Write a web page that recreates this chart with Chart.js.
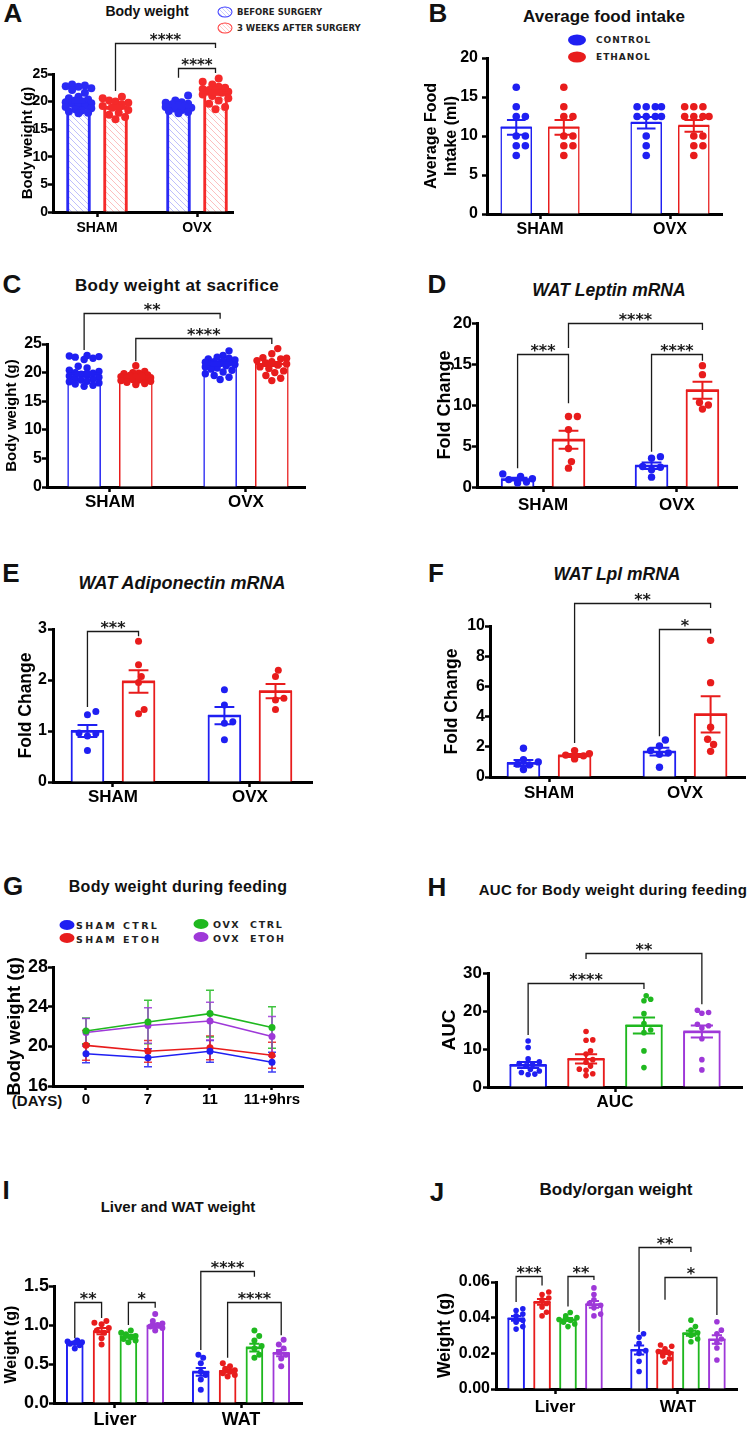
<!DOCTYPE html>
<html>
<head>
<meta charset="utf-8">
<title>Body weight, food intake and WAT panels</title>
<script src="https://cdn.jsdelivr.net/npm/chart.js@4.4.1/dist/chart.umd.min.js"></script>
<style>
  body { margin: 0; background: #fff; }
  #page { position: relative; width: 750px; height: 1432px; overflow: hidden; font-family: "Liberation Sans", Arial, sans-serif; color: #111; }
  #page canvas { position: absolute; }
  .t { position: absolute; white-space: pre; transform: translate(-50%, -50%); font-weight: bold; }
  .l { position: absolute; white-space: pre; transform: translateY(-50%); font-weight: bold; font-family: "DejaVu Sans", sans-serif; color: #222; }
  .m { position: absolute; border-radius: 50%; transform: translate(-50%, -50%); box-sizing: border-box; }
  .let { font-size: 26px; }
  .it { font-style: italic; }
</style>
</head>
<body>
<div id="page">
  <div class="t let" style="left:13px;top:13px">A</div>
  <div class="t let" style="left:438px;top:13px">B</div>
  <div class="t let" style="left:12px;top:284px">C</div>
  <div class="t let" style="left:437px;top:284px">D</div>
  <div class="t let" style="left:11px;top:573px">E</div>
  <div class="t let" style="left:436px;top:573px">F</div>
  <div class="t let" style="left:13px;top:886px">G</div>
  <div class="t let" style="left:437px;top:887px">H</div>
  <div class="t let" style="left:6px;top:1190px">I</div>
  <div class="t let" style="left:437px;top:1192px">J</div>

  <div class="t" style="left:147px;top:11px;font-size:14px">Body weight</div>
  <div class="t" style="left:604px;top:17px;font-size:17px">Average food intake</div>
  <div class="t" style="left:177px;top:286px;font-size:17px;letter-spacing:0.4px">Body weight at sacrifice</div>
  <div class="t it" style="left:609px;top:290px;font-size:17.5px">WAT Leptin mRNA</div>
  <div class="t it" style="left:182px;top:583px;font-size:18px">WAT Adiponectin mRNA</div>
  <div class="t it" style="left:617px;top:574px;font-size:17.5px">WAT Lpl mRNA</div>
  <div class="t" style="left:178px;top:887px;font-size:16px;letter-spacing:0.3px">Body weight during feeding</div>
  <div class="t" style="left:613px;top:889px;font-size:15px;letter-spacing:0.3px">AUC for Body weight during feeding</div>
  <div class="t" style="left:178px;top:1206px;font-size:15px">Liver and WAT weight</div>
  <div class="t" style="left:616px;top:1190px;font-size:17px">Body/organ weight</div>

  <!-- legend A -->
  <span class="m" style="left:225px;top:12px;width:15px;height:11px;border:1.5px solid #3b3bff;background:repeating-linear-gradient(45deg,#fff 0 2px,#c9c9ff 2px 3px)"></span>
  <div class="l" style="left:237px;top:12px;font-size:8.5px">BEFORE SURGERY</div>
  <span class="m" style="left:225px;top:28px;width:15px;height:11px;border:1.5px solid #ff3b3b;background:repeating-linear-gradient(45deg,#fff 0 2px,#ffc9c9 2px 3px)"></span>
  <div class="l" style="left:237px;top:28px;font-size:8.5px">3 WEEKS AFTER SURGERY</div>

  <!-- legend B -->
  <span class="m" style="left:577px;top:40px;width:18px;height:11px;background:#1f1ff2"></span>
  <div class="l" style="left:596px;top:40px;font-size:9px;letter-spacing:1px">CONTROL</div>
  <span class="m" style="left:577px;top:57px;width:18px;height:11px;background:#e81c1c"></span>
  <div class="l" style="left:596px;top:57px;font-size:9px;letter-spacing:1px">ETHANOL</div>

  <!-- legend G -->
  <span class="m" style="left:67px;top:925px;width:15px;height:10px;background:#1f1ff2"></span>
  <div class="l" style="left:76px;top:925px;font-size:9.5px;letter-spacing:2.4px">SHAM CTRL</div>
  <span class="m" style="left:67px;top:938px;width:15px;height:10px;background:#e81c1c"></span>
  <div class="l" style="left:76px;top:939px;font-size:9.5px;letter-spacing:2.4px">SHAM ETOH</div>
  <span class="m" style="left:201px;top:924px;width:15px;height:10px;background:#1fb81f"></span>
  <div class="l" style="left:213px;top:924px;font-size:9.5px;letter-spacing:1.6px">OVX  CTRL</div>
  <span class="m" style="left:201px;top:937px;width:15px;height:10px;background:#9e38d8"></span>
  <div class="l" style="left:213px;top:938px;font-size:9.5px;letter-spacing:1.6px">OVX  ETOH</div>

  <div class="t" style="left:37px;top:1100px;font-size:15px">(DAYS)</div>
</div>

<script>
// ---------- categories ----------
const shamOvx = ['SHAM', 'OVX'];
const organs = ['Liver', 'WAT'];
const days = ['0', '7', '11', '11+9hrs'];
const aucCat = ['AUC'];

// ---------- A: body weight before / 3 weeks after surgery ----------
const aBeforeMean = [20.2, 19.2];
const aBeforeSem = [0.3, 0.2];
const aAfterMean = [19.0, 21.6];
const aAfterSem = [0.35, 0.35];
const aBeforePts = [
  [23.1, 22.9, 22.8, 22.7, 22.4, 22.1, 21.6, 20.9, 20.6, 20.4, 20.2, 20.0, 19.9, 19.7, 19.6, 19.4, 19.2, 19.0, 18.8, 18.6, 18.4, 18.2, 18.0, 17.9],
  [21.1, 20.2, 19.9, 19.8, 19.6, 19.5, 19.3, 19.2, 19.0, 18.9, 18.7, 18.5, 18.3, 18.1, 17.9]
];
const aAfterPts = [
  [20.9, 20.6, 20.2, 20.0, 19.8, 19.5, 19.2, 18.9, 18.5, 18.0, 17.6, 17.2, 16.8],
  [24.2, 23.6, 23.1, 22.7, 22.5, 22.3, 22.1, 22.0, 21.8, 21.6, 21.3, 21.0, 20.6, 20.2, 19.6, 19.0, 18.6]
];
const aSig = [
  { from: [0, 1], to: [1, 1], y: 30.6, left: 21.9, right: 29.7, text: '****' },
  { from: [1, 0], to: [1, 1], y: 26.1, left: 24.3, right: 25.2, text: '****' }
];

// ---------- B: average food intake ----------
const bCtrlMean = [11.1, 11.7];
const bCtrlSem = [0.95, 0.75];
const bEtohMean = [11.1, 11.3];
const bEtohSem = [0.95, 0.75];
const bCtrlPts = [
  [16.25, 13.75, 12.5, 12.5, 10, 10, 8.75, 8.75, 7.5],
  [13.75, 13.75, 13.75, 13.75, 12.5, 12.5, 12.5, 12.5, 10, 8.75, 7.5]
];
const bEtohPts = [
  [16.25, 13.75, 12.5, 12.5, 10, 10, 8.75, 8.75, 7.5],
  [13.75, 13.75, 13.75, 12.5, 12.5, 12.5, 12.5, 10, 10, 8.75, 8.75, 7.5]
];

// ---------- C: body weight at sacrifice ----------
const cCtrlMean = [19.8, 21.5];
const cCtrlSem = [0.3, 0.25];
const cEtohMean = [19.3, 21.5];
const cEtohSem = [0.2, 0.35];
const cCtrlPts = [
  [23.0, 22.9, 22.8, 22.7, 22.5, 22.3, 21.1, 20.8, 20.4, 20.2, 20.0, 19.9, 19.7, 19.5, 19.4, 19.2, 19.0, 18.9, 18.7, 18.5, 18.4, 18.2, 18.0, 17.8, 17.6],
  [23.8, 23.0, 22.7, 22.5, 22.4, 22.2, 22.0, 21.9, 21.8, 21.7, 21.6, 21.5, 21.4, 21.2, 21.0, 20.8, 20.6, 20.4, 20.1, 19.8, 19.5, 19.2, 18.8]
];
const cEtohPts = [
  [21.2, 20.2, 20.0, 19.9, 19.8, 19.6, 19.5, 19.4, 19.3, 19.2, 19.1, 19.0, 18.9, 18.8, 18.7, 18.6, 18.5, 18.3, 18.1, 17.9],
  [24.2, 23.3, 22.6, 22.5, 22.4, 22.1, 21.9, 21.7, 21.5, 21.3, 21.0, 20.7, 20.3, 20.0, 19.5, 19.0, 18.6]
];
const cSig = [
  { from: [0, 0], to: [1, 0], y: 30.4, left: 23.95, right: 29.4, text: '**' },
  { from: [0, 1], to: [1, 1], y: 26.05, left: 22.0, right: 25.0, text: '****' }
];

// ---------- D: WAT leptin mRNA ----------
const dCtrlMean = [0.95, 2.6];
const dCtrlSem = [0.17, 0.4];
const dEtohMean = [5.75, 11.8];
const dEtohSem = [1.1, 1.05];
const dCtrlPts = [[1.6, 1.3, 1.0, 0.9, 0.6, 0.5], [3.7, 3.5, 2.5, 2.4, 2.1, 1.2]];
const dEtohPts = [[8.6, 8.6, 7.0, 4.7, 3.1, 2.3], [14.8, 13.7, 10.3, 10.0, 9.5]];
const dSig = [
  { from: [0, 0], to: [0, 1], y: 16.2, left: 2.3, right: 10.2, text: '***' },
  { from: [0, 1], to: [1, 1], y: 20.0, left: 16.95, right: 19.15, text: '****' },
  { from: [1, 0], to: [1, 1], y: 16.2, left: 4.3, right: 15.4, text: '****' }
];

// ---------- E: WAT adiponectin mRNA ----------
const eCtrlMean = [1.0, 1.3];
const eCtrlSem = [0.12, 0.17];
const eEtohMean = [1.97, 1.78];
const eEtohSem = [0.22, 0.14];
const eCtrlPts = [[1.38, 1.32, 0.96, 0.95, 0.90, 0.62], [1.81, 1.51, 1.18, 1.15, 0.83]];
const eEtohPts = [[2.76, 2.30, 2.07, 1.95, 1.42, 1.34], [2.19, 2.07, 1.64, 1.61, 1.42]];
const eSig = [
  { from: [0, 0], to: [0, 1], y: 2.96, left: 1.47, right: 2.86, text: '***' }
];

// ---------- F: WAT Lpl mRNA ----------
const fCtrlMean = [0.93, 1.68];
const fCtrlSem = [0.2, 0.25];
const fEtohMean = [1.42, 4.15];
const fEtohSem = [0.1, 1.2];
const fCtrlPts = [[1.9, 1.15, 1.0, 0.85, 0.8, 0.5], [2.45, 2.05, 1.75, 1.6, 1.5, 0.65]];
const fEtohPts = [[1.75, 1.55, 1.45, 1.4, 1.2], [9.05, 6.25, 3.3, 2.5, 2.15, 1.7]];
const fSig = [
  { from: [0, 1], to: [1, 1], y: 11.5, left: 2.25, right: 11.2, text: '**' },
  { from: [1, 0], to: [1, 1], y: 9.8, left: 2.7, right: 9.5, text: '*' }
];

// ---------- G: body weight during feeding ----------
const gShamCtrl = [19.25, 18.85, 19.5, 18.4];
const gShamCtrlErr = [0.9, 0.9, 1.1, 1.0];
const gShamEtoh = [20.1, 19.5, 19.85, 19.1];
const gShamEtohErr = [1.5, 1.1, 1.2, 1.3];
const gOvxCtrl = [21.55, 22.45, 23.3, 21.9];
const gOvxCtrlErr = [1.3, 2.2, 2.35, 2.1];
const gOvxEtoh = [21.4, 22.1, 22.55, 21.0];
const gOvxEtohErr = [1.4, 1.8, 1.9, 2.0];

// ---------- H: AUC ----------
const hShamCtrlMean = [5.8];
const hShamEtohMean = [7.4];
const hOvxCtrlMean = [16.2];
const hOvxEtohMean = [14.6];
const hSem = [0.8, 1.2, 2.1, 1.6];
const hShamCtrlPts = [[12.1, 10.4, 7.4, 6.6, 6.2, 5.9, 5.6, 4.6, 4.2, 3.8, 3.4, 3.3]];
const hShamEtohPts = [[14.6, 12.4, 12.3, 9.5, 8.7, 7.2, 6.5, 5.5, 4.7, 4.4, 3.5, 3.0]];
const hOvxCtrlPts = [[24.0, 23.1, 22.7, 19.3, 16.7, 15.0, 14.3, 9.5, 5.1]];
const hOvxEtohPts = [[20.2, 19.6, 19.4, 16.5, 16.1, 15.5, 12.7, 7.2, 4.5]];
const hSig = [
  { from: [0, 0], to: [0, 2], y: 27.4, left: 13.7, right: 25.8, text: '****' },
  { from: [0, 1], to: [0, 3], y: 35.3, left: 33.7, right: 21.8, text: '**' }
];

// ---------- I: liver and WAT weight ----------
const iShamCtrlMean = [0.77, 0.40];
const iShamEtohMean = [0.92, 0.41];
const iOvxCtrlMean = [0.855, 0.71];
const iOvxEtohMean = [0.99, 0.64];
const iShamCtrlSem = [0.015, 0.05];
const iShamEtohSem = [0.04, 0.02];
const iOvxCtrlSem = [0.02, 0.05];
const iOvxEtohSem = [0.025, 0.04];
const iShamCtrlPts = [[0.80, 0.79, 0.78, 0.77, 0.76, 0.74, 0.70], [0.62, 0.58, 0.51, 0.40, 0.36, 0.30, 0.17]];
const iShamEtohPts = [[1.05, 1.03, 1.01, 0.96, 0.93, 0.90, 0.83, 0.75], [0.51, 0.47, 0.44, 0.42, 0.40, 0.38, 0.36, 0.34]];
const iOvxCtrlPts = [[0.93, 0.90, 0.88, 0.86, 0.84, 0.82, 0.80, 0.78], [0.93, 0.86, 0.80, 0.73, 0.70, 0.62, 0.58]];
const iOvxEtohPts = [[1.14, 1.05, 1.02, 1.00, 0.98, 0.96, 0.93], [0.81, 0.75, 0.70, 0.65, 0.62, 0.57, 0.47]];
const iSig = [
  { from: [0, 0], to: [0, 1], y: 1.295, left: 0.83, right: 1.09, text: '**' },
  { from: [0, 2], to: [0, 3], y: 1.295, left: 1.0, right: 1.22, text: '*' },
  { from: [1, 0], to: [1, 2], y: 1.69, left: 0.68, right: 1.62, text: '****' },
  { from: [1, 1], to: [1, 3], y: 1.295, left: 0.58, right: 0.87, text: '****' }
];

// ---------- J: body/organ weight ----------
const jShamCtrlMean = [0.0396, 0.0219];
const jShamEtohMean = [0.0488, 0.0206];
const jOvxCtrlMean = [0.039, 0.0312];
const jOvxEtohMean = [0.0475, 0.0278];
const jShamCtrlSem = [0.0013, 0.0025];
const jShamEtohSem = [0.0016, 0.001];
const jOvxCtrlSem = [0.0008, 0.0014];
const jOvxEtohSem = [0.0019, 0.0024];
const jShamCtrlPts = [[0.0450, 0.0440, 0.0420, 0.0410, 0.0385, 0.0375, 0.0350, 0.0336], [0.0310, 0.0290, 0.0256, 0.0215, 0.0200, 0.0155, 0.0098]];
const jShamEtohPts = [[0.0544, 0.0530, 0.0510, 0.0500, 0.0480, 0.0460, 0.0430, 0.0410], [0.0247, 0.0240, 0.0225, 0.0210, 0.0200, 0.0185, 0.0170, 0.0150]];
const jOvxCtrlPts = [[0.0429, 0.0410, 0.0400, 0.0390, 0.0385, 0.0375, 0.0365, 0.0350], [0.0386, 0.0350, 0.0330, 0.0315, 0.0300, 0.0280, 0.0265]];
const jOvxEtohPts = [[0.0567, 0.0530, 0.0500, 0.0480, 0.0470, 0.0455, 0.0420, 0.0410], [0.0377, 0.0330, 0.0310, 0.0280, 0.0260, 0.0230, 0.0163]];
const jSig = [
  { from: [0, 0], to: [0, 1], y: 0.0635, left: 0.0488, right: 0.058, text: '***' },
  { from: [0, 2], to: [0, 3], y: 0.0635, left: 0.0462, right: 0.0611, text: '**' },
  { from: [1, 0], to: [1, 2], y: 0.0796, left: 0.032, right: 0.0768, text: '**' },
  { from: [1, 1], to: [1, 3], y: 0.063, left: 0.05, right: 0.0415, text: '*' }
];

// ---------- styles ----------
const BLUE = '#1f1ff2', RED = '#e81c1c', GREEN = '#1fb81f', PURPLE = '#9e38d8';
const FONT = '"Liberation Sans", Arial, Helvetica, sans-serif';
const STAR_FONT = '"DejaVu Sans", "Liberation Sans", sans-serif';
Chart.defaults.font.family = FONT;
Chart.defaults.color = '#000';

function bold(size) { return { family: FONT, size: size, weight: 'bold' }; }

function hatch(color) {
  const c = document.createElement('canvas');
  c.width = c.height = 6;
  const g = c.getContext('2d');
  g.fillStyle = '#fff';
  g.fillRect(0, 0, 6, 6);
  g.strokeStyle = color;
  g.globalAlpha = 0.3;
  g.lineWidth = 1;
  g.beginPath();
  g.moveTo(0, 0); g.lineTo(6, 6);
  g.moveTo(-3, 3); g.lineTo(3, 9);
  g.moveTo(3, -3); g.lineTo(9, 3);
  g.stroke();
  return g.createPattern(c, 'repeat');
}

function makeCanvas(box) {
  const c = document.createElement('canvas');
  c.width = box[2]; c.height = box[3];
  c.style.left = box[0] + 'px'; c.style.top = box[1] + 'px';
  c.style.width = box[2] + 'px'; c.style.height = box[3] + 'px';
  document.getElementById('page').appendChild(c);
  return c;
}

// simple beeswarm: horizontal offsets so dots at similar heights spread out
function swarm(ys, r, maxOff) {
  const placed = [];
  const out = new Array(ys.length);
  const order = ys.map((y, i) => i).sort((a, b) => ys[b] - ys[a]);
  const step = r * 0.8;
  order.forEach(i => {
    const y = ys[i];
    let best = 0, bestD = -1;
    for (let k = 0; k <= 40; k++) {
      const off = (k % 2 ? 1 : -1) * Math.ceil(k / 2) * step;
      if (Math.abs(off) > maxOff) continue;
      let dmin = Infinity;
      placed.forEach(q => { dmin = Math.min(dmin, Math.hypot(q.x - off, q.y - y)); });
      if (dmin >= 2 * r * 0.95) { best = off; break; }
      if (dmin > bestD) { bestD = dmin; best = off; }
    }
    placed.push({ x: best, y: y });
    out[i] = best;
  });
  return out;
}

function drawBrackets(chart, list, size) {
  if (!list) return;
  const ctx = chart.ctx, ys = chart.scales.y;
  ctx.save();
  ctx.strokeStyle = '#1a1a1a';
  ctx.fillStyle = '#1a1a1a';
  ctx.lineWidth = 1.3;
  list.forEach(b => {
    const xa = chart.getDatasetMeta(b.from[1]).data[b.from[0]].x;
    const xb = chart.getDatasetMeta(b.to[1]).data[b.to[0]].x;
    const y = Math.round(ys.getPixelForValue(b.y)) + 0.5;
    ctx.beginPath();
    ctx.moveTo(xa, ys.getPixelForValue(b.left));
    ctx.lineTo(xa, y);
    ctx.lineTo(xb, y);
    ctx.lineTo(xb, ys.getPixelForValue(b.right));
    ctx.stroke();
    ctx.font = 'bold ' + size + 'px ' + STAR_FONT;
    ctx.textAlign = 'center';
    ctx.textBaseline = 'alphabetic';
    ctx.fillText(b.text, (xa + xb) / 2, y + 1.5);
  });
  ctx.restore();
}

function axes(p) {
  const [L, T, W, H] = p.box;
  const [x0, yTop, x1, yBot] = p.plot;
  const titleLeft = p.yTitleX - 0.6 * p.yTitleSize;
  const tickGrid = { display: true, drawOnChartArea: false, drawTicks: true, tickLength: 5, tickWidth: 2.5, tickColor: '#000', offset: false };
  return {
    layout: { autoPadding: false, padding: { left: titleLeft - L, top: yTop - T, right: L + W - x1, bottom: 0 } },
    scales: {
      x: {
        type: 'linear', min: p.xMin, max: p.xMax, offset: false,
        afterFit: s => { s.height = T + H - yBot; },
        afterBuildTicks: s => { s.ticks = p.cats.map((c, i) => ({ value: i })); },
        ticks: { callback: v => p.cats[v], font: bold(p.xFont), color: '#000', padding: p.xPad, maxRotation: 0, autoSkip: false },
        grid: Object.assign({}, tickGrid, { tickLength: p.xTl || 5 }),
        border: { display: true, color: '#000', width: 3 }
      },
      y: {
        type: 'linear', min: p.yMin || 0, max: p.yMax,
        afterFit: s => { s.width = x0 - titleLeft; },
        ticks: { stepSize: p.yStep, font: bold(p.yFont), color: '#000', padding: p.yPad,
                 callback: v => v.toFixed(p.yDec || 0) },
        grid: tickGrid,
        border: { display: true, color: '#000', width: 3 },
        title: { display: true, text: p.yTitle, font: bold(p.yTitleSize), color: '#000', padding: 0 }
      }
    }
  };
}

function barPanel(p) {
  const canvas = makeCanvas(p.box);
  const n = p.series.length;
  const offs = p.series.map((s, k) => (k - (n - 1) / 2) * p.spacing);
  const overlay = {
    id: 'overlay',
    afterDatasetsDraw(chart) {
      const ctx = chart.ctx, ys = chart.scales.y;
      ctx.save();
      // individual animals
      p.series.forEach((s, k) => {
        chart.getDatasetMeta(k).data.forEach((bar, i) => {
          const py = s.pts[i].map(v => ys.getPixelForValue(v));
          const dx = swarm(py, p.r, p.thickness / 2 + p.r * 0.3);
          ctx.fillStyle = s.color;
          py.forEach((y, j) => {
            ctx.beginPath();
            ctx.arc(bar.x + dx[j], y, p.r, 0, Math.PI * 2);
            ctx.fill();
          });
        });
      });
      // mean and SEM
      p.series.forEach((s, k) => {
        ctx.strokeStyle = s.color;
        ctx.lineWidth = p.errW || 2;
        chart.getDatasetMeta(k).data.forEach((bar, i) => {
          const yHi = ys.getPixelForValue(s.means[i] + s.sems[i]);
          const yLo = ys.getPixelForValue(s.means[i] - s.sems[i]);
          const yM = ys.getPixelForValue(s.means[i]);
          const c = p.thickness * 0.3;
          ctx.beginPath();
          ctx.moveTo(bar.x, yHi); ctx.lineTo(bar.x, yLo);
          ctx.moveTo(bar.x - c, yHi); ctx.lineTo(bar.x + c, yHi);
          ctx.moveTo(bar.x - c, yLo); ctx.lineTo(bar.x + c, yLo);
          ctx.moveTo(bar.x - p.thickness / 2, yM); ctx.lineTo(bar.x + p.thickness / 2, yM);
          ctx.stroke();
        });
      });
      ctx.restore();
      drawBrackets(chart, p.sig, p.starSize || 16);
    }
  };
  return new Chart(canvas, {
    type: 'bar',
    data: {
      datasets: p.series.map((s, k) => ({
        data: s.means.map((m, i) => ({ x: i + offs[k], y: m })),
        backgroundColor: s.fill || '#fff',
        borderColor: s.color,
        borderWidth: p.border,
        barThickness: p.thickness,
        grouped: false
      }))
    },
    options: Object.assign({
      responsive: false, animation: false, events: [],
      plugins: { legend: { display: false }, tooltip: { enabled: false } }
    }, axes(p)),
    plugins: [overlay]
  });
}

function linePanel(p) {
  const canvas = makeCanvas(p.box);
  const errs = {
    id: 'errs',
    beforeDatasetsDraw(chart) {
      const ctx = chart.ctx, ys = chart.scales.y;
      ctx.save();
      ctx.lineWidth = 1.5;
      p.series.forEach((s, k) => {
        ctx.strokeStyle = s.color;
        ctx.globalAlpha = 0.85;
        chart.getDatasetMeta(k).data.forEach((pt, i) => {
          const hi = ys.getPixelForValue(s.vals[i] + s.errs[i]);
          const lo = ys.getPixelForValue(s.vals[i] - s.errs[i]);
          ctx.beginPath();
          ctx.moveTo(pt.x, hi); ctx.lineTo(pt.x, lo);
          ctx.moveTo(pt.x - 4, hi); ctx.lineTo(pt.x + 4, hi);
          ctx.moveTo(pt.x - 4, lo); ctx.lineTo(pt.x + 4, lo);
          ctx.stroke();
        });
      });
      ctx.restore();
    }
  };
  return new Chart(canvas, {
    type: 'line',
    data: {
      datasets: p.series.map(s => ({
        data: s.vals.map((v, i) => ({ x: i, y: v })),
        borderColor: s.color, backgroundColor: s.color,
        borderWidth: 1.6, pointRadius: 3.5, pointBackgroundColor: s.color,
        pointBorderWidth: 0, tension: 0, fill: false
      }))
    },
    options: Object.assign({
      responsive: false, animation: false, events: [],
      plugins: { legend: { display: false }, tooltip: { enabled: false } }
    }, axes(p)),
    plugins: [errs]
  });
}

// ---------- panels ----------
barPanel({
  box: [0, 20, 375, 230], plot: [53, 74, 233, 212],
  cats: shamOvx, xMin: -0.44, xMax: 1.36, spacing: 0.37, thickness: 24, border: 3, r: 4,
  yMax: 25, yStep: 5, yFont: 14, yPad: 0, yTitle: 'Body weight (g)', yTitleX: 28, yTitleSize: 15,
  xFont: 14, xPad: 3,
  series: [
    { color: '#2a2af5', fill: hatch('#2a2af5'), means: aBeforeMean, sems: aBeforeSem, pts: aBeforePts },
    { color: '#f52a2a', fill: hatch('#f52a2a'), means: aAfterMean, sems: aAfterSem, pts: aAfterPts }
  ],
  sig: aSig, starSize: 15
});

barPanel({
  box: [375, 20, 375, 230], plot: [487, 58, 722, 214],
  cats: shamOvx, xMin: -0.408, xMax: 1.4, spacing: 0.366, thickness: 31, border: 1.5, r: 3.8,
  yMax: 20, yStep: 5, yFont: 16, yPad: 4, yTitle: ['Average Food', 'Intake (ml)'], yTitleX: 432, yTitleSize: 16,
  xFont: 16, xPad: 1,
  series: [
    { color: BLUE, means: bCtrlMean, sems: bCtrlSem, pts: bCtrlPts },
    { color: RED, means: bEtohMean, sems: bEtohSem, pts: bEtohPts }
  ]
});

barPanel({
  box: [0, 290, 375, 230], plot: [47, 344, 305, 487],
  cats: shamOvx, xMin: -0.463, xMax: 1.434, spacing: 0.38, thickness: 33, border: 1.5, r: 3.7,
  yMax: 25, yStep: 5, yFont: 16, yPad: 0, yTitle: 'Body weight (g)', yTitleX: 12, yTitleSize: 15,
  xFont: 17, xPad: 0,
  series: [
    { color: BLUE, means: cCtrlMean, sems: cCtrlSem, pts: cCtrlPts },
    { color: RED, means: cEtohMean, sems: cEtohSem, pts: cEtohPts }
  ],
  sig: cSig
});

barPanel({
  box: [375, 300, 375, 220], plot: [477, 323, 737, 487],
  cats: shamOvx, xMin: -0.493, xMax: 1.448, spacing: 0.38, thickness: 33, border: 2, r: 3.7,
  yMax: 20, yStep: 5, yFont: 17, yPad: 0, yTitle: 'Fold Change', yTitleX: 445, yTitleSize: 18,
  xFont: 17, xPad: 3,
  series: [
    { color: BLUE, means: dCtrlMean, sems: dCtrlSem, pts: dCtrlPts },
    { color: RED, means: dEtohMean, sems: dEtohSem, pts: dEtohPts }
  ],
  sig: dSig
});

barPanel({
  box: [0, 600, 375, 215], plot: [53, 629, 312, 782],
  cats: shamOvx, xMin: -0.438, xMax: 1.453, spacing: 0.373, thickness: 33, border: 2, r: 3.5,
  yMax: 3, yStep: 1, yFont: 16, yPad: 1, yTitle: 'Fold Change', yTitleX: 26, yTitleSize: 17.5,
  xFont: 17, xPad: 0,
  series: [
    { color: BLUE, means: eCtrlMean, sems: eCtrlSem, pts: eCtrlPts },
    { color: RED, means: eEtohMean, sems: eEtohSem, pts: eEtohPts }
  ],
  sig: eSig
});

barPanel({
  box: [375, 580, 375, 235], plot: [490, 626, 745, 777],
  cats: shamOvx, xMin: -0.434, xMax: 1.441, spacing: 0.376, thickness: 33, border: 2, r: 3.7,
  yMax: 10, yStep: 2, yFont: 16, yPad: 0, yTitle: 'Fold Change', yTitleX: 452, yTitleSize: 17.5,
  xFont: 17, xPad: 1,
  series: [
    { color: BLUE, means: fCtrlMean, sems: fCtrlSem, pts: fCtrlPts },
    { color: RED, means: fEtohMean, sems: fEtohSem, pts: fEtohPts }
  ],
  sig: fSig
});

linePanel({
  box: [0, 950, 375, 165], plot: [53, 967, 303, 1086],
  cats: days, xMin: -0.532, xMax: 3.5, xTl: 4,
  yMin: 16, yMax: 28, yStep: 4, yFont: 18, yPad: 0, yTitle: 'Body weight (g)', yTitleX: 15, yTitleSize: 18.5,
  xFont: 15, xPad: 1,
  series: [
    { color: BLUE, vals: gShamCtrl, errs: gShamCtrlErr },
    { color: RED, vals: gShamEtoh, errs: gShamEtohErr },
    { color: GREEN, vals: gOvxCtrl, errs: gOvxCtrlErr },
    { color: PURPLE, vals: gOvxEtoh, errs: gOvxEtohErr }
  ]
});

barPanel({
  box: [375, 930, 375, 185], plot: [488, 973, 742, 1087],
  cats: aucCat, xMin: -0.5, xMax: 0.5, spacing: 0.228, thickness: 37, border: 2, r: 2.8,
  yMax: 30, yStep: 10, yFont: 17, yPad: 1, yTitle: 'AUC', yTitleX: 450, yTitleSize: 19,
  xFont: 17, xPad: 0,
  series: [
    { color: BLUE, means: hShamCtrlMean, sems: [hSem[0]], pts: hShamCtrlPts },
    { color: RED, means: hShamEtohMean, sems: [hSem[1]], pts: hShamEtohPts },
    { color: GREEN, means: hOvxCtrlMean, sems: [hSem[2]], pts: hOvxCtrlPts },
    { color: PURPLE, means: hOvxEtohMean, sems: [hSem[3]], pts: hOvxEtohPts }
  ],
  sig: hSig
});

barPanel({
  box: [0, 1240, 375, 192], plot: [54, 1286, 302, 1403],
  cats: organs, xMin: -0.484, xMax: 1.484, spacing: 0.2127, thickness: 17, border: 2, r: 3,
  yMax: 1.5, yStep: 0.5, yDec: 1, yFont: 18, yPad: 0, yTitle: 'Weight (g)', yTitleX: 12, yTitleSize: 16,
  xFont: 18, xPad: 1,
  series: [
    { color: BLUE, means: iShamCtrlMean, sems: iShamCtrlSem, pts: iShamCtrlPts },
    { color: RED, means: iShamEtohMean, sems: iShamEtohSem, pts: iShamEtohPts },
    { color: GREEN, means: iOvxCtrlMean, sems: iOvxCtrlSem, pts: iOvxCtrlPts },
    { color: PURPLE, means: iOvxEtohMean, sems: iOvxEtohSem, pts: iOvxEtohPts }
  ],
  sig: iSig
});

barPanel({
  box: [375, 1225, 375, 207], plot: [496, 1282, 737, 1389],
  cats: organs, xMin: -0.48, xMax: 1.48, spacing: 0.211, thickness: 17, border: 2, r: 2.8,
  yMax: 0.06, yStep: 0.02, yDec: 2, yFont: 16, yPad: 1, yTitle: 'Weight (g)', yTitleX: 445, yTitleSize: 17.5,
  xFont: 17, xPad: 3,
  series: [
    { color: BLUE, means: jShamCtrlMean, sems: jShamCtrlSem, pts: jShamCtrlPts },
    { color: RED, means: jShamEtohMean, sems: jShamEtohSem, pts: jShamEtohPts },
    { color: GREEN, means: jOvxCtrlMean, sems: jOvxCtrlSem, pts: jOvxCtrlPts },
    { color: PURPLE, means: jOvxEtohMean, sems: jOvxEtohSem, pts: jOvxEtohPts }
  ],
  sig: jSig
});
</script>
</body>
</html>
